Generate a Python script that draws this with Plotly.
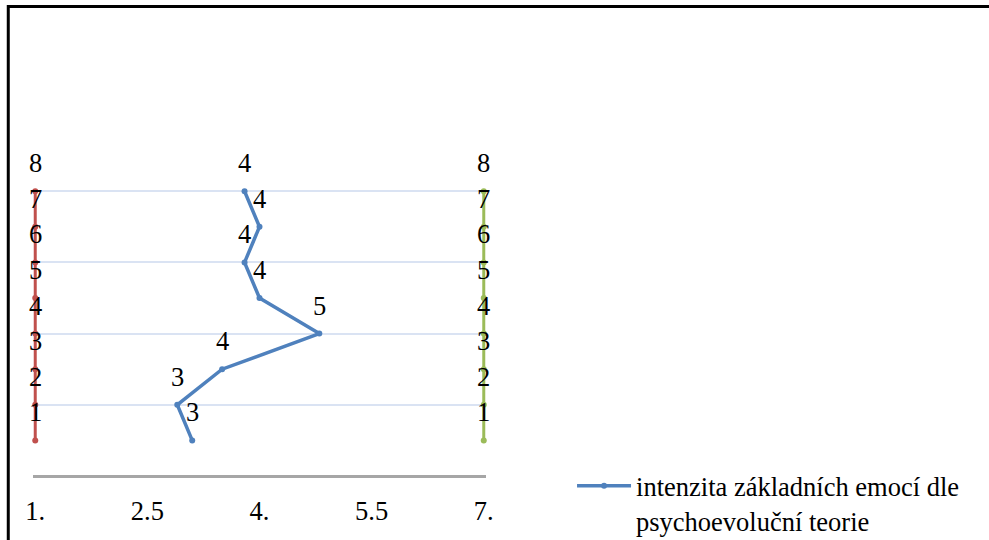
import math
import plotly.graph_objects as go

# Data
levels = [8, 7, 6, 5, 4, 3, 2, 1]
y_vals = [lv / 2 for lv in levels]
blue_x = [3.8, 4.0, 3.8, 4.0, 4.8, 3.5, 2.9, 3.1]
left_x = [1] * len(levels)
right_x = [7] * len(levels)
tick_vals = [1, 2.5, 4, 5.5, 7]
tick_text = ["1.", "2.5", "4.", "5.5", "7."]
series_name = "intenzita základních emocí dle<br>psychoevoluční teorie"

FONT = "Liberation Serif"
FS = 26.5

fig = go.Figure()

fig.add_trace(go.Scatter(x=left_x, y=y_vals, mode="lines+markers",
                         line=dict(color="#c0504d", width=3),
                         marker=dict(size=6, color="#c0504d"),
                         showlegend=False, cliponaxis=False))
fig.add_trace(go.Scatter(x=right_x, y=y_vals, mode="lines+markers",
                         line=dict(color="#9bbb59", width=3),
                         marker=dict(size=6, color="#9bbb59"),
                         showlegend=False, cliponaxis=False))
fig.add_trace(go.Scatter(x=blue_x, y=y_vals, mode="lines+markers",
                         name=series_name,
                         line=dict(color="#4f81bd", width=3.5),
                         marker=dict(size=6, color="#4f81bd"),
                         cliponaxis=False))

annotations = []
for xs, labels in ((left_x, levels), (right_x, levels),
                   (blue_x, [math.floor(v + 0.5) for v in blue_x])):
    for x, y, t in zip(xs, y_vals, labels):
        annotations.append(dict(x=x, y=y, text=str(t), showarrow=False,
                                yshift=28, font=dict(family=FONT, size=FS, color="black")))

fig.update_layout(
    width=989, height=540,
    margin=dict(l=32.76, r=502.76, t=120, b=64, pad=0, autoexpand=False),
    paper_bgcolor="white", plot_bgcolor="white",
    font=dict(family=FONT, size=FS, color="black"),
    annotations=annotations,
    legend=dict(xref="container", yref="container",
                x=0.5784, y=0.1444, xanchor="left", yanchor="top", valign="top",
                font=dict(family=FONT, size=FS, color="black"),
                bgcolor="rgba(0,0,0,0)", itemwidth=54),
    shapes=[dict(type="rect", xref="paper", yref="paper",
                 x0=-0.0546, x1=3.0, y0=-1.0, y1=1.3188,
                 line=dict(color="black", width=3), layer="below")],
    xaxis=dict(range=[0.97, 7.03], tickvals=tick_vals, ticktext=tick_text,
               showgrid=False, zeroline=False, showline=False, automargin=False,
               ticks="outside", ticklen=11, tickcolor="rgba(0,0,0,0)",
               tickfont=dict(family=FONT, size=FS, color="black")),
    yaxis=dict(range=[0, 5], dtick=1, showticklabels=False, automargin=False,
               showgrid=True, gridcolor="#dae3f3", gridwidth=2,
               zeroline=True, zerolinecolor="#a6a6a6", zerolinewidth=3,
               showline=False),
)

fig.write_html("out.html", config={"displayModeBar": False},
               post_script="document.body.style.margin='0';document.body.style.overflow='hidden';")
